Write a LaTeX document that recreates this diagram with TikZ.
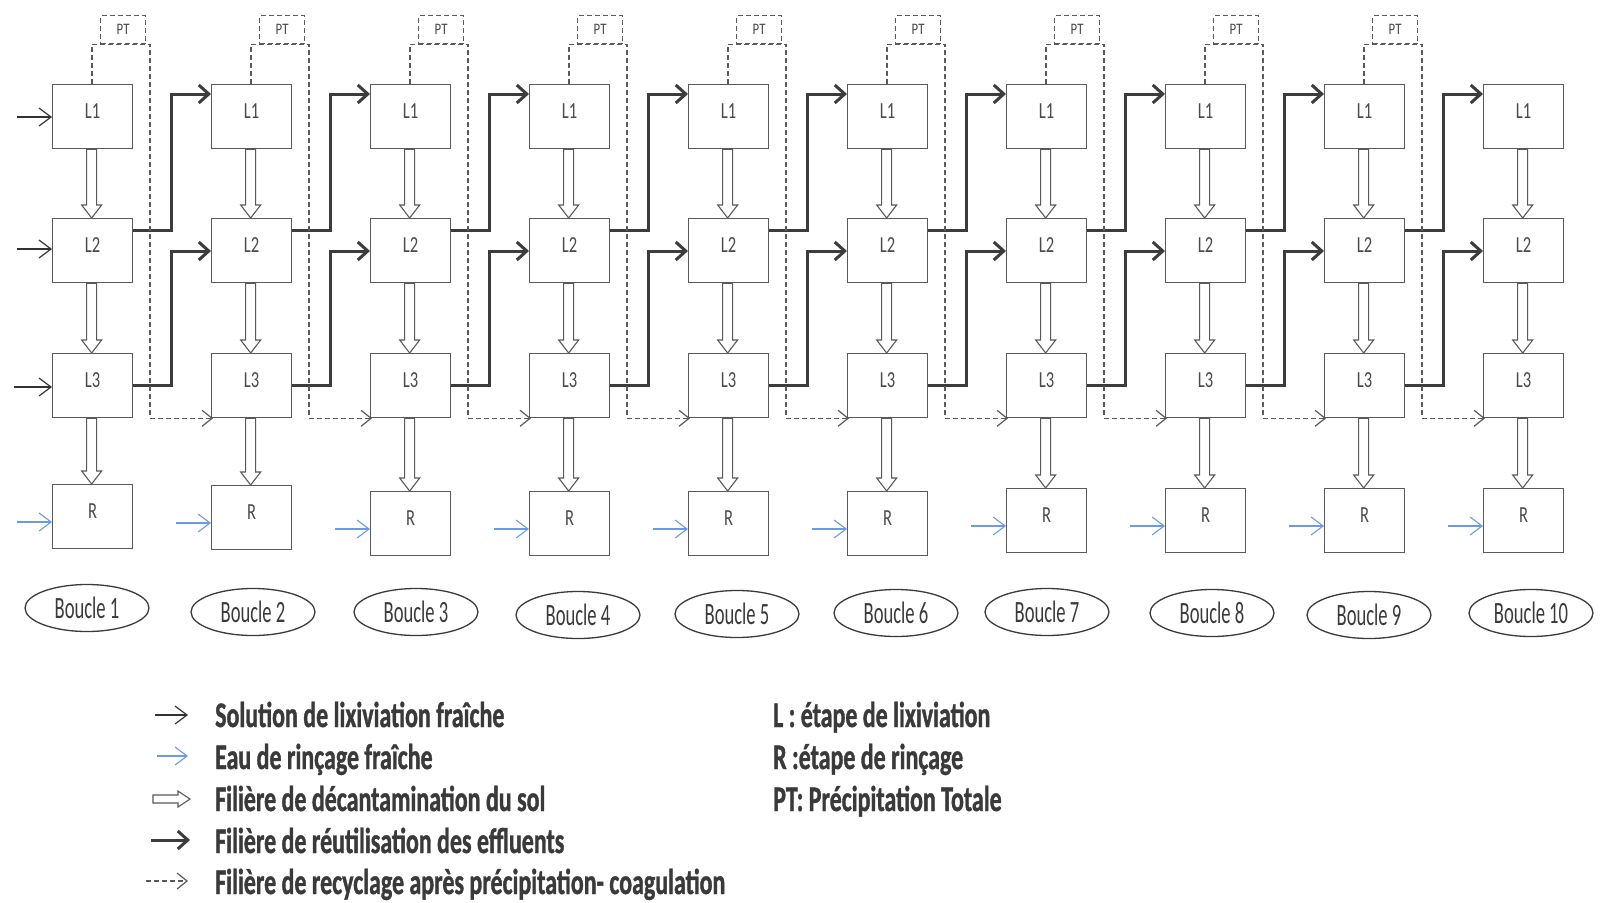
\documentclass[tikz,border=0pt]{standalone}
\usepackage{fontspec}
\setmainfont{Carlito}
\newfontfamily\boxfont[FakeStretch=0.72]{Carlito}
\newfontfamily\ptfont[FakeStretch=0.8]{Carlito}
\newfontfamily\bfont[FakeStretch=0.6]{Carlito}
\newfontfamily\legfont[FakeStretch=0.665,FakeBold=1]{Carlito Bold}
\usetikzlibrary{arrows.meta,calc,shapes.geometric}
\definecolor{boxc}{HTML}{5A5A5A}
\definecolor{txtc}{HTML}{4A4A4A}
\definecolor{thickc}{HTML}{3C3C3C}
\definecolor{bluec}{HTML}{6A9BE0}
\definecolor{legc}{HTML}{3A3A3A}
\newcommand\hollowarr[2]{\path[hollow] let \p1=(#1.south), \p2=(#2.north) in
  (\x1-6pt,\y1) -- (\x1-6pt,\y2+13pt) -- (\x1-11pt,\y2+13pt) -- (\x1-1pt,\y2)
  -- (\x1+9pt,\y2+13pt) -- (\x1+4pt,\y2+13pt) -- (\x1+4pt,\y1) -- cycle;}
\begin{document}
\begin{tikzpicture}[x=1pt,y=-1pt,
  stage/.style={draw=boxc,line width=1.3pt,minimum width=80pt,minimum height=64pt,
    inner sep=0pt,anchor=north west,text=txtc,
    font=\boxfont\fontsize{23}{23}\selectfont,text height=16pt,text depth=12pt},
  ptbox/.style={draw=boxc,line width=1.2pt,dash pattern=on 5pt off 3pt,
    minimum width=45pt,minimum height=28pt,inner sep=0pt,anchor=north west,
    text=txtc,font=\ptfont\fontsize{16}{16}\selectfont},
  loopel/.style={draw=legc,line width=1.3pt,ellipse,minimum width=124pt,
    minimum height=47pt,inner sep=0pt,text=legc,
    font=\bfont\fontsize{31}{31}\selectfont},
  hollow/.style={draw=boxc,line width=1.1pt,fill=white},
  thickarr/.style={draw=thickc,line width=3pt,-{Straight Barb[length=10pt,width=18pt]}},
  thinarr/.style={draw=black!80,line width=1.2pt,-{Straight Barb[length=12pt,width=18pt]}},
  bluearr/.style={draw=bluec,line width=1.1pt,-{Straight Barb[length=12pt,width=18pt]}},
  dasharr/.style={draw=boxc,line width=1.2pt,dash pattern=on 5pt off 3pt,
    -{Straight Barb[length=10pt,width=16pt,line width=1.2pt,sep=0pt]}},
  legtext/.style={anchor=base west,inner sep=0pt,text=legc,
    font=\legfont\fontsize{36}{36}\selectfont}]
\useasboundingbox[fill=white] (0,0) rectangle (1600,902);

% boxes
\foreach \i/\rt in {1/484,2/485,3/491,4/491,5/491,6/491,7/488,8/488,9/488,10/488}{
  \pgfmathsetmacro\xl{52+159*(\i-1)}
  \node[stage] (L1-\i) at (\xl,84) {L1};
  \node[stage] (L2-\i) at (\xl,218) {L2};
  \node[stage] (L3-\i) at (\xl,353) {L3};
  \node[stage] (R-\i) at (\xl,\rt) {R};
  \coordinate (b-\i) at (\xl-35,\rt+38);
  \draw[bluearr] (b-\i) -- (b-\i -| R-\i.west);
}
\foreach \i in {1,...,9}{
  \pgfmathsetmacro\xl{52+159*(\i-1)}
  \node[ptbox] (PT-\i) at (\xl+48,15) {PT};
}

% loop labels
\foreach \i/\cx/\cy in {1/87/608,2/253/612,3/416/612,4/578/615,5/737/614,
  6/896/613,7/1047/612,8/1212/613,9/1369/615,10/1531/613}{
  \node[loopel] (B-\i) at (\cx,\cy) {Boucle \i};
}

% hollow arrows (soil path)
\foreach \i in {1,...,10}{
  \hollowarr{L1-\i}{L2-\i}
  \hollowarr{L2-\i}{L3-\i}
  \hollowarr{L3-\i}{R-\i}
}

% effluent reuse and recycling
\foreach \i [evaluate=\i as \j using int(\i+1)] in {1,...,9}{
  \draw[thickarr] let \p1=(L2-\i.north east), \p2=(L1-\j.north west) in
    (\x1,\y1-12pt) -- (\x1+38pt,\y1-12pt) |- (\x2,\y2-10pt);
  \draw[thickarr] let \p1=(L3-\i.north east), \p2=(L2-\j.north west) in
    (\x1,\y1-32pt) -- (\x1+38pt,\y1-32pt) |- (\x2,\y2-33pt);
  \draw[dasharr] let \p1=(L1-\i.north west), \p2=(PT-\i.south), \p3=(L3-\j.south west) in
    (\x1+40pt,\y1) |- (\x1+98pt,\y2) |- (\x3+2pt,\y3);
}

% fresh leaching solution inputs
\coordinate (in1) at (17,117);
\coordinate (in2) at (17,249);
\coordinate (in3) at (14,387);
\draw[thinarr] (in1) -- (in1 -| L1-1.west);
\draw[thinarr] (in2) -- (in2 -| L2-1.west);
\draw[thinarr] (in3) -- (in3 -| L3-1.west);

% legend
\coordinate (lg1a) at (155,715); \coordinate (lg1b) at (188,715);
\draw[thinarr] (lg1a) -- (lg1b);
\coordinate (lg2a) at (157,756); \coordinate (lg2b) at (188,756);
\draw[bluearr] (lg2a) -- (lg2b);
\coordinate (lg3) at (153,799);
\path[hollow] (lg3) ++(0,-4) -- ++(25,0) -- ++(0,-4) -- ++(12,8) -- ++(-12,8)
  -- ++(0,-4) -- ++(-25,0) -- cycle;
\coordinate (lg4a) at (151,840); \coordinate (lg4b) at (190,840);
\draw[thickarr] (lg4a) -- (lg4b);
\coordinate (lg5a) at (146,881); \coordinate (lg5b) at (188,881);
\draw[dasharr] (lg5a) -- (lg5b);

\node[legtext] (t1) at (215,727) {Solution de lixiviation fraîche};
\node[legtext] (t2) at (215,769) {Eau de rinçage fraîche};
\node[legtext] (t3) at (215,811) {Filière de décantamination du sol};
\node[legtext] (t4) at (215,853) {Filière de réutilisation des effluents};
\node[legtext] (t5) at (215,894) {Filière de recyclage après précipitation- coagulation};
\node[legtext] (t6) at (773,727) {L : étape de lixiviation};
\node[legtext] (t7) at (773,769) {R :étape de rinçage};
\node[legtext] (t8) at (773,811) {PT: Précipitation Totale};
\end{tikzpicture}
\end{document}
